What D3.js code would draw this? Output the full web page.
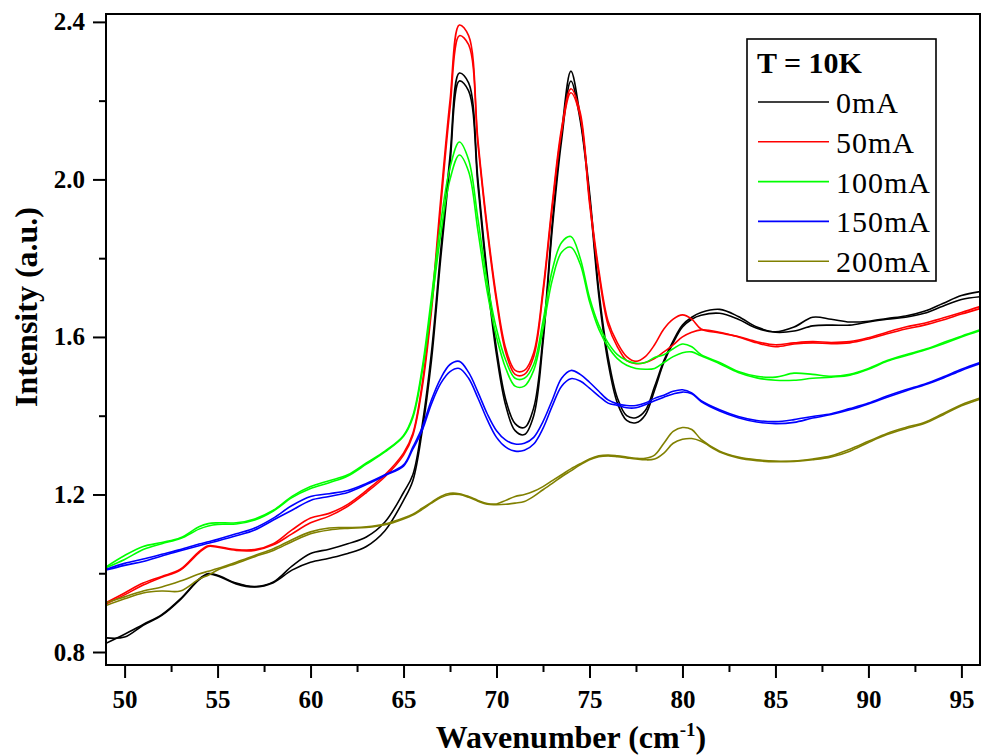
<!DOCTYPE html>
<html>
<head>
<meta charset="utf-8">
<script src="https://cdn.jsdelivr.net/npm/d3@7"></script>
<style>
    body { margin: 0; background: white; }
    svg { display: block; }
</style>
</head>
<body>
<div id="chart"></div>
<script>

// -- data --

var wavenumber = [49, 50, 51, 52, 53, 54, 54.5, 55, 56, 57, 58, 59, 60, 61, 62, 63, 64, 65,
    65.5, 66, 66.5, 67, 67.5, 68, 68.5, 69, 69.5, 70, 70.5, 71, 71.5, 72, 72.5, 73, 73.5, 74,
    74.5, 75, 75.5, 76, 76.5, 77, 77.5, 78, 78.5, 79, 79.5, 80, 80.5, 81,
    82, 83, 84, 85, 86, 87, 88, 89, 90, 91, 92, 93, 94, 95, 96];

var mA0_a = [0.822, 0.845, 0.870, 0.895, 0.935, 0.985, 0.999, 0.995, 0.975, 0.966, 0.978, 1.018, 1.050, 1.061, 1.075, 1.092, 1.130, 1.205,
    1.250, 1.375, 1.560, 1.820, 2.060, 2.270, 2.245, 2.000, 1.760, 1.570, 1.440, 1.380, 1.370, 1.420, 1.600, 1.890, 2.120, 2.275,
    2.160, 1.968, 1.719, 1.549, 1.445, 1.400, 1.395, 1.413, 1.474, 1.540, 1.590, 1.630, 1.650, 1.662,
    1.670, 1.652, 1.625, 1.613, 1.625, 1.650, 1.645, 1.638, 1.640, 1.647, 1.653, 1.665, 1.685, 1.705, 1.715];
var mA0_b = [0.836, 0.838, 0.868, 0.893, 0.933, 0.983, 0.997, 0.993, 0.973, 0.965, 0.976, 1.008, 1.028, 1.038, 1.050, 1.068, 1.108, 1.185,
    1.235, 1.360, 1.540, 1.800, 2.040, 2.250, 2.225, 1.985, 1.745, 1.555, 1.425, 1.362, 1.352, 1.400, 1.585, 1.875, 2.100, 2.250,
    2.150, 1.955, 1.705, 1.535, 1.432, 1.388, 1.382, 1.402, 1.465, 1.535, 1.585, 1.625, 1.645, 1.655,
    1.660, 1.645, 1.622, 1.612, 1.615, 1.628, 1.630, 1.630, 1.638, 1.645, 1.650, 1.660, 1.678, 1.695, 1.702];

var mA50_a = [0.925, 0.950, 0.975, 0.992, 1.010, 1.055, 1.070, 1.068, 1.060, 1.060, 1.075, 1.110, 1.140, 1.152, 1.175, 1.210, 1.250, 1.305,
    1.355, 1.480, 1.680, 1.950, 2.200, 2.392, 2.365, 2.100, 1.880, 1.700, 1.570, 1.515, 1.515, 1.560, 1.720, 1.940, 2.130, 2.230,
    2.170, 1.950, 1.770, 1.640, 1.585, 1.550, 1.538, 1.550, 1.580, 1.620, 1.645, 1.656, 1.645, 1.620,
    1.610, 1.601, 1.588, 1.580, 1.585, 1.588, 1.586, 1.588, 1.598, 1.612, 1.625, 1.635, 1.648, 1.662, 1.677];
var mA50_b = [0.922, 0.945, 0.970, 0.990, 1.008, 1.052, 1.068, 1.066, 1.058, 1.058, 1.072, 1.100, 1.128, 1.145, 1.170, 1.205, 1.245, 1.300,
    1.350, 1.470, 1.665, 1.930, 2.180, 2.365, 2.342, 2.090, 1.870, 1.690, 1.560, 1.505, 1.505, 1.550, 1.710, 1.930, 2.120, 2.220,
    2.160, 1.940, 1.760, 1.630, 1.575, 1.540, 1.532, 1.535, 1.545, 1.562, 1.580, 1.600, 1.612, 1.618,
    1.612, 1.600, 1.585, 1.575, 1.582, 1.585, 1.583, 1.585, 1.595, 1.608, 1.620, 1.630, 1.643, 1.658, 1.672];

var mA100_a = [1.016, 1.045, 1.068, 1.078, 1.090, 1.118, 1.126, 1.128, 1.128, 1.138, 1.160, 1.195, 1.220, 1.235, 1.250, 1.280, 1.310, 1.350,
    1.400, 1.520, 1.700, 1.890, 2.030, 2.095, 2.050, 1.900, 1.740, 1.620, 1.540, 1.495, 1.495, 1.530, 1.640, 1.770, 1.840, 1.855,
    1.800, 1.700, 1.630, 1.585, 1.555, 1.540, 1.533, 1.535, 1.548, 1.555, 1.570, 1.582, 1.575, 1.555,
    1.535, 1.512, 1.500, 1.498, 1.508, 1.505, 1.500, 1.505, 1.520, 1.540, 1.555, 1.568, 1.585, 1.602, 1.618];
var mA100_b = [1.014, 1.035, 1.060, 1.075, 1.088, 1.112, 1.120, 1.124, 1.125, 1.135, 1.158, 1.192, 1.215, 1.230, 1.247, 1.277, 1.308, 1.348,
    1.395, 1.510, 1.680, 1.860, 2.000, 2.062, 2.020, 1.870, 1.715, 1.600, 1.520, 1.475, 1.475, 1.515, 1.620, 1.745, 1.815, 1.828,
    1.785, 1.690, 1.620, 1.575, 1.545, 1.528, 1.520, 1.518, 1.520, 1.535, 1.550, 1.560, 1.562, 1.552,
    1.532, 1.510, 1.496, 1.490, 1.490, 1.495, 1.498, 1.503, 1.518, 1.538, 1.552, 1.566, 1.582, 1.600, 1.616];

var mA150_a = [1.010, 1.025, 1.036, 1.048, 1.060, 1.074, 1.080, 1.086, 1.100, 1.115, 1.140, 1.172, 1.195, 1.202, 1.210, 1.228, 1.250, 1.275,
    1.320, 1.370, 1.440, 1.495, 1.530, 1.538, 1.510, 1.460, 1.405, 1.362, 1.338, 1.328, 1.330, 1.345, 1.385, 1.440, 1.495, 1.515,
    1.505, 1.485, 1.462, 1.440, 1.430, 1.426, 1.426, 1.432, 1.444, 1.452, 1.462, 1.466, 1.458, 1.438,
    1.415, 1.398, 1.388, 1.385, 1.390, 1.398, 1.405, 1.418, 1.432, 1.450, 1.466, 1.480, 1.498, 1.518, 1.535];
var mA150_b = [1.008, 1.020, 1.030, 1.044, 1.057, 1.070, 1.076, 1.082, 1.095, 1.110, 1.135, 1.160, 1.185, 1.195, 1.205, 1.225, 1.248, 1.272,
    1.315, 1.362, 1.430, 1.482, 1.512, 1.520, 1.495, 1.445, 1.390, 1.345, 1.320, 1.310, 1.312, 1.328, 1.368, 1.425, 1.475, 1.494,
    1.488, 1.470, 1.450, 1.432, 1.426, 1.420, 1.420, 1.428, 1.438, 1.447, 1.455, 1.460, 1.456, 1.436,
    1.412, 1.395, 1.384, 1.380, 1.383, 1.394, 1.403, 1.415, 1.430, 1.447, 1.463, 1.478, 1.495, 1.515, 1.532];

var mA200_a = [0.925, 0.940, 0.955, 0.965, 0.980, 0.998, 1.005, 1.012, 1.028, 1.045, 1.062, 1.085, 1.105, 1.115, 1.116, 1.118, 1.125, 1.140,
    1.150, 1.165, 1.180, 1.195, 1.203, 1.202, 1.195, 1.185, 1.177, 1.176, 1.185, 1.195, 1.200, 1.208, 1.220, 1.235, 1.250, 1.265,
    1.278, 1.290, 1.298, 1.300, 1.298, 1.295, 1.292, 1.292, 1.300, 1.330, 1.360, 1.370, 1.365, 1.340,
    1.310, 1.295, 1.288, 1.285, 1.285, 1.290, 1.298, 1.315, 1.335, 1.355, 1.370, 1.383, 1.405, 1.428, 1.445];
var mA200_b = [0.918, 0.935, 0.950, 0.955, 0.955, 0.985, 0.995, 1.008, 1.025, 1.042, 1.058, 1.080, 1.100, 1.110, 1.114, 1.116, 1.123, 1.138,
    1.148, 1.162, 1.178, 1.192, 1.200, 1.200, 1.193, 1.183, 1.175, 1.174, 1.175, 1.178, 1.182, 1.195, 1.212, 1.228, 1.245, 1.260,
    1.275, 1.288, 1.296, 1.298, 1.296, 1.293, 1.290, 1.288, 1.290, 1.305, 1.330, 1.340, 1.342, 1.335,
    1.308, 1.293, 1.286, 1.283, 1.284, 1.288, 1.295, 1.310, 1.332, 1.352, 1.367, 1.380, 1.402, 1.425, 1.442];

var currents = ["0mA", "50mA", "100mA", "150mA", "200mA"];
var colors = ["#000000", "#ff0000", "#00ff00", "#0000ff", "#808000"];
var runs = [[mA0_a, mA0_b], [mA50_a, mA50_b], [mA100_a, mA100_b], [mA150_a, mA150_b], [mA200_a, mA200_b]];

var xTicks = [50, 55, 60, 65, 70, 75, 80, 85, 90, 95];
var xMinor = [52.5, 57.5, 62.5, 67.5, 72.5, 77.5, 82.5, 87.5, 92.5];
var yTicks = [0.8, 1.2, 1.6, 2.0, 2.4];
var yMinor = [1.0, 1.4, 1.8, 2.2];

// -- layout --

var width = 982, height = 756;
var plotLeft = 106, plotRight = 980, plotTop = 14, plotBottom = 665;
var serif = "'Liberation Serif', 'Times New Roman', serif";

var svg = d3.select("#chart").append("svg")
    .attr("width", width)
    .attr("height", height);

var x = d3.scaleLinear().domain([49, 96]).range([plotLeft, plotRight]);
var y = d3.scaleLinear().domain([0.767, 2.42]).range([plotBottom, plotTop]);

// clip so curves stay in the frame
svg.append("clipPath").attr("id", "plot")
    .append("rect")
    .attr("x", plotLeft).attr("y", plotTop)
    .attr("width", plotRight - plotLeft).attr("height", plotBottom - plotTop);

var line = d3.line()
    .x(function (d, i) { return x(wavenumber[i]); })
    .y(function (d) { return y(d); })
    .curve(d3.curveCatmullRom.alpha(0.5));

var curves = svg.append("g").attr("clip-path", "url(#plot)");
runs.forEach(function (pair, k) {
    pair.forEach(function (vals) {
        curves.append("path")
            .datum(vals)
            .attr("d", line)
            .style("fill", "none")
            .style("stroke", colors[k])
            .style("stroke-width", 1.6);
    });
});

// axes
svg.append("g")
    .attr("transform", "translate(0," + plotBottom + ")")
    .call(d3.axisBottom(x).tickValues(xTicks).tickSize(13).tickPadding(12).tickFormat(d3.format("d")));
svg.append("g")
    .attr("transform", "translate(0," + plotBottom + ")")
    .call(d3.axisBottom(x).tickValues(xMinor).tickSize(7).tickFormat(""));

svg.append("g")
    .attr("transform", "translate(" + plotLeft + ",0)")
    .call(d3.axisLeft(y).tickValues(yTicks).tickSize(13).tickPadding(8).tickFormat(d3.format(".1f")));
svg.append("g")
    .attr("transform", "translate(" + plotLeft + ",0)")
    .call(d3.axisLeft(y).tickValues(yMinor).tickSize(7).tickFormat(""));

svg.selectAll(".domain").remove();
svg.selectAll(".tick line").style("stroke", "black").style("stroke-width", 2);
svg.selectAll(".tick text")
    .style("font-family", serif)
    .style("font-size", "25px")
    .style("font-weight", "bold")
    .style("fill", "black");

// frame
svg.append("rect")
    .attr("x", plotLeft).attr("y", plotTop)
    .attr("width", plotRight - plotLeft).attr("height", plotBottom - plotTop)
    .style("fill", "none")
    .style("stroke", "black")
    .style("stroke-width", 2);

// axis titles
var xTitle = svg.append("text")
    .attr("x", 571).attr("y", 748)
    .attr("text-anchor", "middle")
    .style("font-family", serif)
    .style("font-size", "32px")
    .style("font-weight", "bold");
xTitle.append("tspan").text("Wavenumber (cm");
xTitle.append("tspan").attr("dy", -12).style("font-size", "19px").text("-1");
xTitle.append("tspan").attr("dy", 12).text(")");

svg.append("text")
    .attr("transform", "translate(37,307) rotate(-90)")
    .attr("text-anchor", "middle")
    .style("font-family", serif)
    .style("font-size", "32px")
    .style("font-weight", "bold")
    .text("Intensity (a.u.)");

// legend
var legend = svg.append("g");
legend.append("rect")
    .attr("x", 747).attr("y", 39)
    .attr("width", 189).attr("height", 242)
    .style("fill", "white")
    .style("stroke", "black")
    .style("stroke-width", 1.6);

legend.append("text")
    .attr("x", 757).attr("y", 73)
    .style("font-family", serif)
    .style("font-size", "30px")
    .style("font-weight", "bold")
    .text("T = 10K");

currents.forEach(function (name, k) {
    var ly = 102 + k * 39.8;
    legend.append("line")
        .attr("x1", 758).attr("x2", 829)
        .attr("y1", ly).attr("y2", ly)
        .style("stroke", colors[k])
        .style("stroke-width", 1.6);
    legend.append("text")
        .attr("x", 836).attr("y", ly + 11)
        .style("font-family", serif)
        .style("font-size", "30px")
        .style("letter-spacing", "1px")
        .text(name);
});

</script>
</body>
</html>
